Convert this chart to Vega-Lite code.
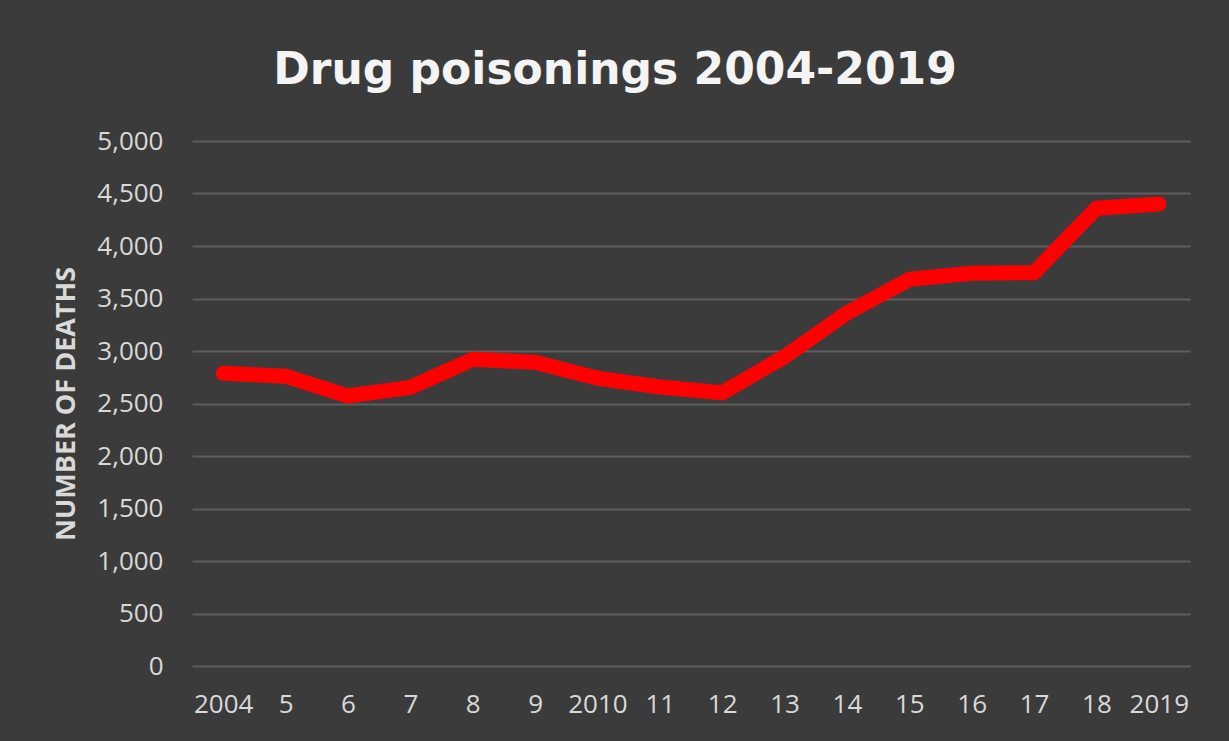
{
  "$schema": "https://vega.github.io/schema/vega-lite/v6.json",
  "width": 998,
  "height": 525,
  "autosize": {"type": "none"},
  "padding": {"left": 192, "top": 141, "right": 39, "bottom": 75},
  "background": "#3b3b3b",
  "title": {
    "text": "Drug poisonings 2004-2019",
    "font": "DejaVu Sans",
    "fontSize": 44,
    "fontWeight": "bold",
    "color": "#f4f4f4",
    "anchor": "middle",
    "frame": "group",
    "baseline": "alphabetic",
    "offset": 0,
    "dx": -76
  },
  "config": {
    "view": {"stroke": null},
    "axis": {
      "labelFont": "Open Sans",
      "labelColor": "#d9d9d9",
      "labelFontSize": 26,
      "titleFont": "Open Sans",
      "titleColor": "#d9d9d9",
      "domain": false,
      "ticks": false
    }
  },
  "data": {
    "values": [
      {"year": "2004", "label": "2004", "deaths": 2787},
      {"year": "2005", "label": "5", "deaths": 2760},
      {"year": "2006", "label": "6", "deaths": 2571},
      {"year": "2007", "label": "7", "deaths": 2654},
      {"year": "2008", "label": "8", "deaths": 2921},
      {"year": "2009", "label": "9", "deaths": 2892},
      {"year": "2010", "label": "2010", "deaths": 2740},
      {"year": "2011", "label": "11", "deaths": 2657},
      {"year": "2012", "label": "12", "deaths": 2603},
      {"year": "2013", "label": "13", "deaths": 2946},
      {"year": "2014", "label": "14", "deaths": 3362},
      {"year": "2015", "label": "15", "deaths": 3683},
      {"year": "2016", "label": "16", "deaths": 3740},
      {"year": "2017", "label": "17", "deaths": 3746},
      {"year": "2018", "label": "18", "deaths": 4359},
      {"year": "2019", "label": "2019", "deaths": 4400}
    ]
  },
  "mark": {
    "type": "line",
    "color": "#ff0000",
    "strokeWidth": 15,
    "strokeCap": "round",
    "strokeJoin": "round"
  },
  "encoding": {
    "x": {
      "field": "label",
      "type": "ordinal",
      "sort": null,
      "scale": {"type": "point", "padding": 0.5},
      "axis": {
        "title": null,
        "labelAngle": 0,
        "labelPadding": 25,
        "grid": false
      }
    },
    "y": {
      "field": "deaths",
      "type": "quantitative",
      "scale": {"domain": [0, 5000], "nice": false},
      "axis": {
        "title": "NUMBER OF DEATHS",
        "titleFontSize": 27,
        "titleFontWeight": "bold",
        "titlePadding": 16,
        "values": [0, 500, 1000, 1500, 2000, 2500, 3000, 3500, 4000, 4500, 5000],
        "format": ",d",
        "labelPadding": 29,
        "grid": true,
        "gridColor": "#5e5e5e",
        "gridWidth": 2
      }
    }
  }
}
